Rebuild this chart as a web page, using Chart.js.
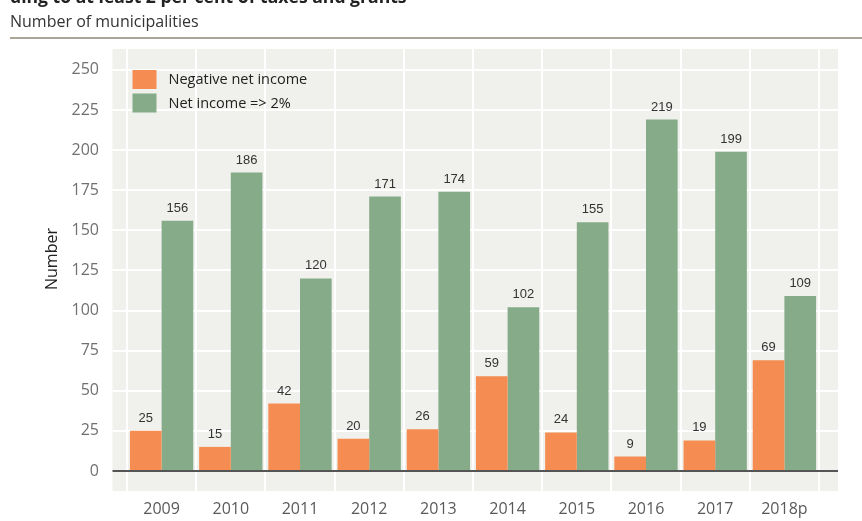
<!DOCTYPE html>
<html>
<head>
<meta charset="utf-8">
<script src="https://cdn.jsdelivr.net/npm/chart.js@4.4.0/dist/chart.umd.min.js"></script>
<style>
  html, body { margin: 0; padding: 0; background: #fff; }
  body { width: 862px; height: 521px; position: relative; overflow: hidden; font-family: "Open Sans", sans-serif; }
  #title { position: absolute; left: 10px; top: -13px; font-size: 17.6px; line-height: 18px; font-weight: bold; color: #222; white-space: nowrap; }
  #subtitle { position: absolute; left: 10px; top: 10px; font-size: 16px; color: #333; white-space: nowrap; }
  #rule { position: absolute; left: 10px; right: 0; top: 37px; height: 2px; background: #a9a597; }
  #chart { position: absolute; left: 0; top: 0; }
</style>
</head>
<body>
<canvas id="chart" width="862" height="521"></canvas>
<div id="title">ding to at least 2 per cent of taxes and grants</div>
<div id="subtitle">Number of municipalities</div>
<div id="rule"></div>
<script>
const years = ["2009", "2010", "2011", "2012", "2013", "2014", "2015", "2016", "2017", "2018p"];
const negativeNetIncome = [25, 15, 42, 20, 26, 59, 24, 9, 19, 69];
const netIncomeAbove2 = [156, 186, 120, 171, 174, 102, 155, 219, 199, 109];
const yTicks = [0, 25, 50, 75, 100, 125, 150, 175, 200, 225, 250];

const FONT = "'Open Sans', sans-serif";
const ORANGE = "#f58d52";
const GREEN = "#86ab88";

// grey panel plus horizontal grid, wider than the category range
const panel = {
  id: "panel",
  beforeDraw(chart) {
    const { ctx, chartArea: a, scales: { y } } = chart;
    const left = a.left - 14.5;
    const right = a.right + 19;
    ctx.save();
    ctx.fillStyle = "#f0f0ec";
    ctx.fillRect(left, a.top, right - left, a.bottom - a.top);
    ctx.strokeStyle = "#fff";
    ctx.lineWidth = 2;
    yTicks.forEach((v) => {
      const py = Math.round(y.getPixelForValue(v));
      ctx.beginPath();
      ctx.moveTo(left, py);
      ctx.lineTo(right, py);
      ctx.stroke();
    });
    ctx.restore();
  },
  afterDatasetsDraw(chart) {
    const { ctx, chartArea: a, scales: { y } } = chart;
    const py = Math.round(y.getPixelForValue(0));
    ctx.save();
    ctx.strokeStyle = "#555";
    ctx.lineWidth = 2;
    ctx.beginPath();
    ctx.moveTo(a.left - 14.5, py);
    ctx.lineTo(a.right + 19, py);
    ctx.stroke();

    // value labels over each bar
    ctx.fillStyle = "#333";
    ctx.font = "13px 'Liberation Sans', Arial, sans-serif";
    ctx.textAlign = "center";
    ctx.textBaseline = "alphabetic";
    chart.data.datasets.forEach((ds, i) => {
      chart.getDatasetMeta(i).data.forEach((bar, j) => {
        ctx.fillText(String(ds.data[j]), bar.x, bar.y - 9);
      });
    });
    ctx.restore();
  },
  afterDraw(chart) {
    const { ctx, chartArea: a } = chart;
    ctx.save();
    // legend inside the panel
    ctx.font = "14.5px " + FONT;
    ctx.textBaseline = "middle";
    chart.data.datasets.forEach((ds, i) => {
      const bx = a.left + 5.5;
      const by = a.top + 21 + i * 23.5;
      ctx.fillStyle = ds.backgroundColor;
      ctx.fillRect(bx, by, 24, 19);
      ctx.fillStyle = "#222";
      ctx.textAlign = "left";
      ctx.fillText(ds.label, bx + 36, by + 10);
    });
    // y axis title
    ctx.translate(52, 259);
    ctx.rotate(-Math.PI / 2);
    ctx.font = "16px " + FONT;
    ctx.fillStyle = "#222";
    ctx.textAlign = "center";
    ctx.fillText("Number", 0, 0);
    ctx.restore();
  },
};

new Chart(document.getElementById("chart"), {
  type: "bar",
  data: {
    labels: years,
    datasets: [
      { label: "Negative net income", data: negativeNetIncome, backgroundColor: ORANGE },
      { label: "Net income => 2%", data: netIncomeAbove2, backgroundColor: GREEN },
    ],
  },
  options: {
    responsive: false,
    animation: false,
    datasets: { bar: { categoryPercentage: 0.915, barPercentage: 1.0 } },
    layout: { padding: { top: 49, right: 43, bottom: 0, left: 0 } },
    plugins: { legend: { display: false }, tooltip: { enabled: false } },
    scales: {
      x: {
        grid: { offset: true, color: "#fff", lineWidth: 2, drawTicks: false },
        border: { display: false },
        ticks: { color: "#5a5a5a", font: { family: FONT, size: 16 }, padding: 9 },
        afterFit: (s) => { s.height = 30; },
      },
      y: {
        min: -12.5,
        max: 263,
        grid: { display: false, drawTicks: false },
        border: { display: false },
        afterBuildTicks: (s) => { s.ticks = yTicks.map((v) => ({ value: v })); },
        ticks: { color: "#707070", font: { family: FONT, size: 16 }, padding: 28 },
        afterFit: (s) => {
          s.width = 127;
          // the wide tick padding must not push the plot edges inward
          s.paddingTop = 0;
          s.paddingBottom = 0;
        },
      },
    },
  },
  plugins: [panel],
});
</script>
</body>
</html>
